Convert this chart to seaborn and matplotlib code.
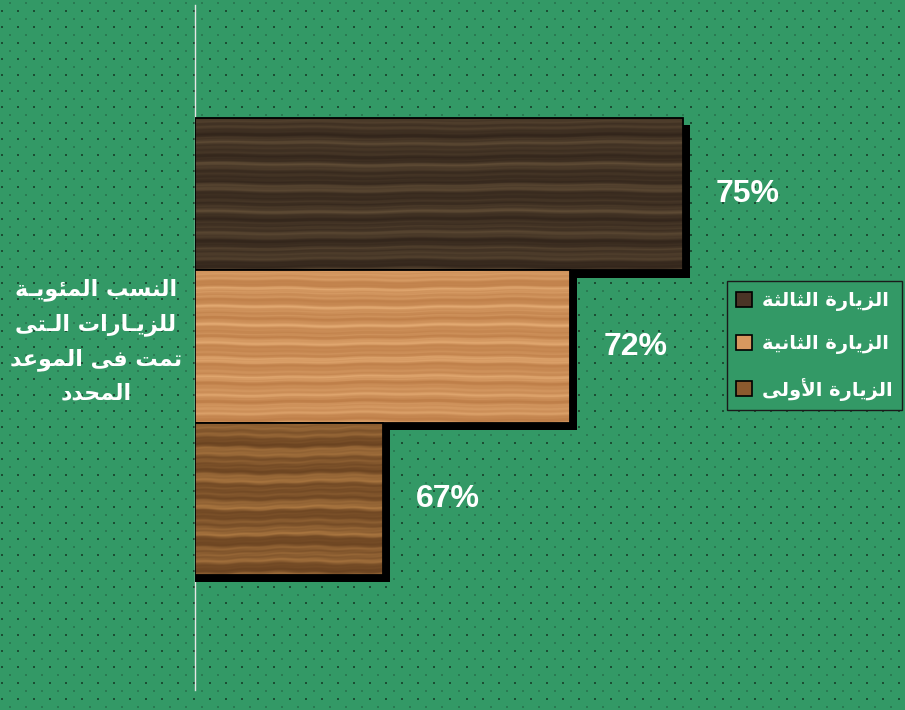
import numpy as np
import pandas as pd
import seaborn as sns
import matplotlib.pyplot as plt
import matplotlib.patheffects as pe
from matplotlib.patches import Patch, Rectangle

# ---- data -------------------------------------------------------------------
visits = ['الزيارة الثالثة', 'الزيارة الثانية', 'الزيارة الأولى']
percents = [75, 72, 67]
axis_title = ['النسب المئويـة', 'للزيـارات الـتى', 'تمت فى الموعد', 'المحدد']

swatch_colors = ['#4a3426', '#d8985f', '#8b5a2e']
# (dark streak, light streak) per bar
wood_tones = [((50, 37, 27), (100, 80, 56)),
              ((190, 126, 72), (232, 176, 120)),
              ((105, 66, 32), (182, 128, 70))]
green = '#339966'

# ---- minimal Arabic shaping (matplotlib has no complex text layout) ----------
FORMS = {
    'ا': ('\uFE8D', '\uFE8E', None, None),
    'أ': ('\uFE83', '\uFE84', None, None),
    'ب': ('\uFE8F', '\uFE90', '\uFE91', '\uFE92'),
    'ة': ('\uFE93', '\uFE94', None, None),
    'ت': ('\uFE95', '\uFE96', '\uFE97', '\uFE98'),
    'ث': ('\uFE99', '\uFE9A', '\uFE9B', '\uFE9C'),
    'ح': ('\uFEA1', '\uFEA2', '\uFEA3', '\uFEA4'),
    'د': ('\uFEA9', '\uFEAA', None, None),
    'ر': ('\uFEAD', '\uFEAE', None, None),
    'ز': ('\uFEAF', '\uFEB0', None, None),
    'س': ('\uFEB1', '\uFEB2', '\uFEB3', '\uFEB4'),
    'ع': ('\uFEC9', '\uFECA', '\uFECB', '\uFECC'),
    'ف': ('\uFED1', '\uFED2', '\uFED3', '\uFED4'),
    'ل': ('\uFEDD', '\uFEDE', '\uFEDF', '\uFEE0'),
    'م': ('\uFEE1', '\uFEE2', '\uFEE3', '\uFEE4'),
    'ن': ('\uFEE5', '\uFEE6', '\uFEE7', '\uFEE8'),
    'و': ('\uFEED', '\uFEEE', None, None),
    'ى': ('\uFEEF', '\uFEF0', None, None),
    'ي': ('\uFEF1', '\uFEF2', '\uFEF3', '\uFEF4'),
    'ئ': ('\uFE89', '\uFE8A', '\uFE8B', '\uFE8C'),
}
LAM_ALEF = {'ا': ('\uFEFB', '\uFEFC'), 'أ': ('\uFEF7', '\uFEF8')}
TATWEEL = 'ـ'


def joins_next(c):
    return c == TATWEEL or (c in FORMS and FORMS[c][2] is not None)


def joins_prev(c):
    return c == TATWEEL or c in FORMS


def shape(text):
    out = []
    i = 0
    n = len(text)
    while i < n:
        c = text[i]
        prev = text[i - 1] if i > 0 else ''
        nxt = text[i + 1] if i + 1 < n else ''
        if c not in FORMS:
            out.append(c)
            i += 1
            continue
        p = joins_next(prev)
        if c == 'ل' and nxt in LAM_ALEF:
            out.append(LAM_ALEF[nxt][1 if p else 0])
            i += 2
            continue
        iso, fin, ini, med = FORMS[c]
        nx = ini is not None and joins_prev(nxt)
        if p and nx:
            out.append(med)
        elif p:
            out.append(fin)
        elif nx:
            out.append(ini)
        else:
            out.append(iso)
        i += 1
    return ''.join(reversed(out))


def wood(dark, light, f, h=160, w=520):
    y = np.linspace(0, 1, h)[:, None]
    x = np.linspace(0, 1, w)[None, :]
    yy = y + 0.006 * np.sin(2 * np.pi * (1.3 * x + 0.7 * y)) + 0.003 * np.sin(2 * np.pi * 5 * x)
    g = (0.45 * np.sin(2 * np.pi * f[0] * yy)
         + 0.30 * np.sin(2 * np.pi * f[1] * yy + 1.3)
         + 0.25 * np.sin(2 * np.pi * f[2] * yy + 2.1)
         + 0.10 * np.sin(2 * np.pi * (f[2] * 2.3 * yy + 3 * x)))
    t = np.clip((g + 1.1) / 2.2, 0, 1) ** 1.6
    d = np.array(dark) / 255
    l = np.array(light) / 255
    return d + t[..., None] * (l - d)


shaped_visits = [shape(v) for v in visits]
df = pd.DataFrame({'visit': shaped_visits, 'pct': percents})

sns.set_theme(style='white')
plt.rcParams['font.family'] = ['DejaVu Sans']

fig = plt.figure(figsize=(9.05, 7.10), dpi=100)
fig.patch.set_facecolor(green)

# dotted background
H, W = 710, 905
bg = np.zeros((H, W, 3))
bg[:] = np.array([0x33, 0x99, 0x66]) / 255
faint = np.array([0x2a, 0x7a, 0x52]) / 255
dark = np.array([0x1c, 0x4e, 0x34]) / 255
for dy in range(2):
    for dx in range(2):
        bg[2 + dy::16, 9 + dx::16] = faint
        bg[10 + dy::16, 1 + dx::16] = dark
bax = fig.add_axes([0, 0, 1, 1], zorder=-5)
bax.imshow(bg, interpolation='nearest', aspect='auto')
bax.axis('off')

ax = fig.add_axes([195 / 905, 20 / 710, 675 / 905, 685 / 710])
ax.set_facecolor('none')
sns.barplot(data=df, x='pct', y='visit', hue='visit', palette=swatch_colors,
            width=1.0, legend=False, ax=ax, orient='h')

freqs = [(7, 13, 29), (9, 17, 33), (6, 11, 23)]
xmin, xmax = 62, 80
for i, bar in enumerate(ax.patches):
    bar.set_zorder(2 + 3 * i)
    bar.set_linewidth(0)
    bar.set_path_effects([pe.SimplePatchShadow(offset=(5.2, -5.2), shadow_rgbFace='black', alpha=1.0),
                          pe.Normal()])
    y0, hgt = bar.get_y(), bar.get_height()
    tex = wood(wood_tones[i][0], wood_tones[i][1], freqs[i])
    im = ax.imshow(tex, extent=(xmin, bar.get_width(), y0 + hgt, y0),
                   aspect='auto', interpolation='bilinear', zorder=3 + 3 * i)
    im.set_clip_path(bar)
    ax.add_patch(Rectangle((xmin, y0), bar.get_width() - xmin, hgt, fill=False,
                           edgecolor='black', linewidth=1.3, zorder=4 + 3 * i))

ax.set_xlim(xmin, xmax)
ax.set_ylim(3.254, -1.241)

for cont in ax.containers:
    ax.bar_label(cont, labels=[f'{v:.0f}%' for v in cont.datavalues], padding=24,
                 color='white', fontsize=23, fontweight='bold',
                 family=['Liberation Sans', 'DejaVu Sans'], zorder=20)

ax.set_xticks([])
ax.set_yticks([])
ax.set_xlabel('')
ax.set_ylabel('\n'.join(shape(t) for t in axis_title), rotation=0, color='white',
              fontsize=16, fontweight='bold', ha='center', va='center',
              multialignment='center', linespacing=1.75)
ax.yaxis.set_label_coords(-0.147, 0.51)
for s in ['top', 'right', 'bottom']:
    ax.spines[s].set_visible(False)
ax.spines['left'].set_color('#e6e6e6')
ax.spines['left'].set_linewidth(1.0)

handles = [Patch(facecolor=c, edgecolor='black', linewidth=1.2) for c in swatch_colors]
leg = fig.legend(handles, shaped_visits, loc='center right',
                 bbox_to_anchor=(1.0, 0.513), frameon=True, fancybox=False,
                 facecolor=green, edgecolor='#1a1a1a', framealpha=1,
                 handlelength=0.8, handleheight=0.8, handletextpad=0.5,
                 labelspacing=1.2, borderpad=0.5, borderaxespad=0.15,
                 prop={'size': 14, 'weight': 'bold', 'family': ['DejaVu Sans']})
for t in leg.get_texts():
    t.set_color('white')

fig.savefig('out.png', dpi=100, facecolor=green)
